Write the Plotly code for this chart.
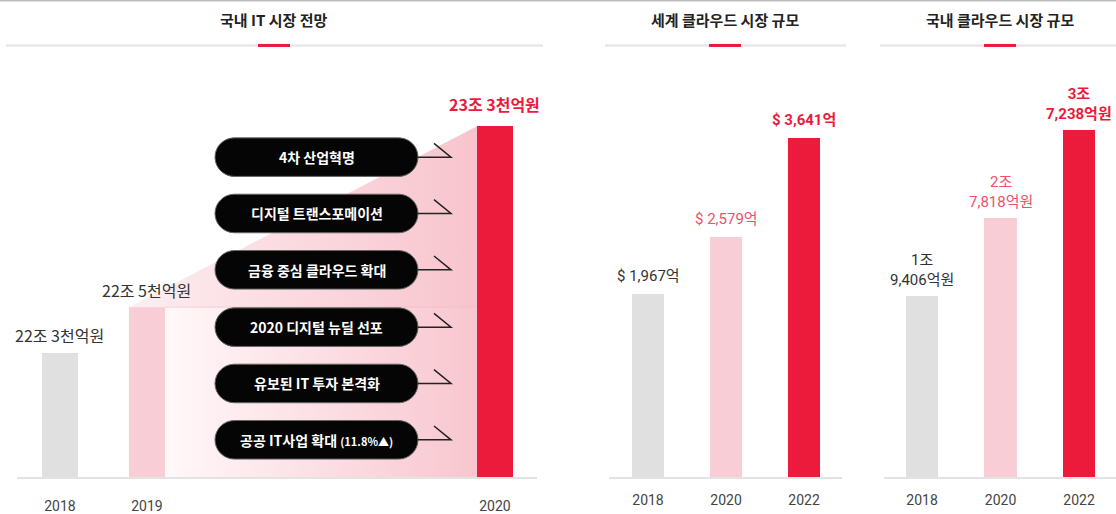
import plotly.graph_objects as go

# ---------------- data ----------------
it_years = ["2018", "2019", "2020"]
it_values = [22.3, 22.5, 23.3]          # 조원
it_labels = ["22조 3천억원", "22조 5천억원", "23조 3천억원"]
it_drivers = ["4차 산업혁명", "디지털 트랜스포메이션", "금융 중심 클라우드 확대",
              "2020 디지털 뉴딜 선포", "유보된 IT 투자 본격화",
              "공공 IT사업 확대 <span style='font-size:11px'>(11.8%▲)</span>"]

world_years = ["2018", "2020", "2022"]
world_values = [1967, 2579, 3641]        # 억 달러
world_labels = ["$ 1,967억", "$ 2,579억", "$ 3,641억"]

kr_years = ["2018", "2020", "2022"]
kr_values = [19406, 27818, 37238]        # 억원
kr_labels = ["1조<br>9,406억원", "2조<br>7,818억원", "3조<br>7,238억원"]

titles = ["국내 IT 시장 전망", "세계 클라우드 시장 규모", "국내 클라우드 시장 규모"]

# ---------------- layout constants ----------------
W, H = 1116, 514
def px(x): return x / W
def py(y): return 1 - y / H

GRAY, PINK, RED = "#e0e0e0", "#f9cdd5", "#ec1a3b"
bar_colors = [GRAY, PINK, RED]
label_colors = ["#333333", "#f0506a", RED]
FONT = "Roboto, Noto Sans CJK KR, sans-serif"
KFONT = "Noto Sans CJK KR, Roboto, sans-serif"

it_slots = [0, 1, 5]
BW = 0.414
IT_RANGE = [21.748, 23.421]
Y_DOMAIN = [py(483), py(100)]

fig = go.Figure()

# gradient areas (left panel)
xl19 = it_slots[1] - BW / 2
xr19 = it_slots[1] + BW / 2
xl20 = it_slots[2] - BW / 2
fig.add_trace(go.Scatter(
    x=[xr19, xl20, xl20, xr19, xr19],
    y=[IT_RANGE[0], IT_RANGE[0], it_values[1], it_values[1], IT_RANGE[0]],
    fill="toself", mode="lines", line=dict(width=0),
    fillgradient=dict(type="horizontal", colorscale=[[0, "#fff8f9"], [1, "#f8c6cf"]]),
    hoverinfo="skip", showlegend=False, xaxis="x", yaxis="y"))
fig.add_trace(go.Scatter(
    x=[xl19, xl20, xl20, xl19],
    y=[it_values[1], it_values[2], it_values[1], it_values[1]],
    fill="toself", mode="lines", line=dict(width=0),
    fillgradient=dict(type="horizontal", colorscale=[[0, "#fdeef1"], [1, "#f8c4cd"]]),
    hoverinfo="skip", showlegend=False, xaxis="x", yaxis="y"))
fig.add_trace(go.Scatter(
    x=[xr19, xl20], y=[it_values[1], it_values[1]], mode="lines",
    line=dict(color="rgba(235,170,182,0.45)", width=1),
    hoverinfo="skip", showlegend=False, xaxis="x", yaxis="y"))

# bars
fig.add_trace(go.Bar(x=it_slots, y=it_values, width=BW, marker=dict(color=bar_colors, line=dict(width=0)),
                     showlegend=False, xaxis="x", yaxis="y"))
fig.add_trace(go.Bar(x=world_years, y=world_values, width=0.41, marker=dict(color=bar_colors, line=dict(width=0)),
                     showlegend=False, xaxis="x2", yaxis="y2"))
fig.add_trace(go.Bar(x=kr_years, y=kr_values, width=0.41, marker=dict(color=bar_colors, line=dict(width=0)),
                     showlegend=False, xaxis="x3", yaxis="y3"))

annotations = []
shapes = []

# value labels
for i, (s, v, t) in enumerate(zip(it_slots, it_values, it_labels)):
    bold = i == 2
    annotations.append(dict(x=s, y=v, xref="x", yref="y", text=f"<b>{t}</b>" if bold else t,
                            showarrow=False, yanchor="middle", yshift=22 if bold else 17,
                            font=dict(family=KFONT, size=16,
                                      color=RED if bold else "#333333")))
for i, (v, t) in enumerate(zip(world_values, world_labels)):
    bold = i == 2
    annotations.append(dict(x=i, y=v, xref="x2", yref="y2", text=f"<b>{t}</b>" if bold else t,
                            showarrow=False, yanchor="middle", yshift=18,
                            font=dict(family=FONT, size=15, color=label_colors[i])))
for i, (v, t) in enumerate(zip(kr_values, kr_labels)):
    bold = i == 2
    annotations.append(dict(x=i, y=v, xref="x3", yref="y3", text=f"<b>{t}</b>" if bold else t,
                            showarrow=False, yanchor="bottom", yshift=5,
                            font=dict(family=FONT, size=15, color=label_colors[i])))

# titles and underlines
title_cx = [274, 725, 1000]
line_spans = [(6, 543), (605, 846), (880, 1116)]
for t, cx, (a, b) in zip(titles, title_cx, line_spans):
    annotations.append(dict(x=px(cx), y=py(20), xref="paper", yref="paper", text=f"<b>{t}</b>",
                            showarrow=False, xanchor="center", yanchor="middle",
                            font=dict(family=KFONT, size=15, color="#222222")))
    shapes.append(dict(type="line", xref="paper", yref="paper", x0=px(a), x1=px(b), y0=py(46), y1=py(46),
                       line=dict(color="#e3e3e3", width=2)))
    shapes.append(dict(type="line", xref="paper", yref="paper", x0=px(cx - 16), x1=px(cx + 16), y0=py(46), y1=py(46),
                       line=dict(color=RED, width=3)))

# top border
shapes.append(dict(type="line", xref="paper", yref="paper", x0=0, x1=1, y0=py(0.5), y1=py(0.5),
                   line=dict(color="#bdbdbd", width=2)))

# driver pills with arrows
def pill_path(x0, x1, cy, h):
    r = h / 2
    k = 0.5523 * r
    yt, yb = cy - r, cy + r
    pts = [
        f"M {px(x0 + r)},{py(yt)}",
        f"L {px(x1 - r)},{py(yt)}",
        f"C {px(x1 - r + k)},{py(yt)} {px(x1)},{py(cy - k)} {px(x1)},{py(cy)}",
        f"C {px(x1)},{py(cy + k)} {px(x1 - r + k)},{py(yb)} {px(x1 - r)},{py(yb)}",
        f"L {px(x0 + r)},{py(yb)}",
        f"C {px(x0 + r - k)},{py(yb)} {px(x0)},{py(cy + k)} {px(x0)},{py(cy)}",
        f"C {px(x0)},{py(cy - k)} {px(x0 + r - k)},{py(yt)} {px(x0 + r)},{py(yt)}",
        "Z",
    ]
    return " ".join(pts)

PX0, PX1, PH = 215, 418, 39
pill_cy = [159, 216, 273, 331, 388, 445]
for t, cy in zip(it_drivers, pill_cy):
    shapes.append(dict(type="path", xref="paper", yref="paper", path=pill_path(PX0, PX1, cy, PH),
                       fillcolor="#050505", line=dict(color="#666666", width=1), layer="above"))
    shapes.append(dict(type="path", xref="paper", yref="paper",
                       path=f"M {px(PX1)},{py(cy)} L {px(451)},{py(cy)} L {px(434)},{py(cy - 14)}",
                       fillcolor="rgba(0,0,0,0)", line=dict(color="#222222", width=1.5), layer="above"))
    annotations.append(dict(x=px((PX0 + PX1) / 2), y=py(cy), xref="paper", yref="paper",
                            text=f"<b>{t}</b>", showarrow=False, xanchor="center", yanchor="middle",
                            font=dict(family=KFONT, size=14, color="white")))

axis_common = dict(showgrid=False, zeroline=False, showline=True, linecolor="#e3e3e3", linewidth=2,
                   ticks="", tickfont=dict(family=FONT, size=14, color="#444444"), fixedrange=True)
yaxis_common = dict(visible=False, domain=Y_DOMAIN, fixedrange=True)

fig.update_layout(
    width=W, height=H, margin=dict(l=0, r=0, t=0, b=0),
    paper_bgcolor="white", plot_bgcolor="rgba(0,0,0,0)",
    font=dict(family=FONT),
    bargap=0,
    xaxis=dict(domain=[px(17), px(537)], range=[-0.494, 5.483], tickvals=it_slots, ticktext=it_years,
               ticklabelstandoff=15, anchor="y", **axis_common),
    yaxis=dict(range=IT_RANGE, anchor="x", **yaxis_common),
    xaxis2=dict(domain=[px(609), px(842)], range=[-0.5, 2.487], type="category",
                ticklabelstandoff=9, anchor="y2", **axis_common),
    yaxis2=dict(range=[0, 4061], anchor="x2", **yaxis_common),
    xaxis3=dict(domain=[px(884), 1], range=[-0.484, 2.47], type="category",
                ticklabelstandoff=9, anchor="y3", **axis_common),
    yaxis3=dict(range=[0, 40530], anchor="x3", **yaxis_common),
    annotations=annotations, shapes=shapes,
)

fig.write_html("out.html", config={"displayModeBar": False},
               post_script="document.body.style.margin='0';document.body.style.padding='0';"
                           "document.body.style.overflow='hidden';")
